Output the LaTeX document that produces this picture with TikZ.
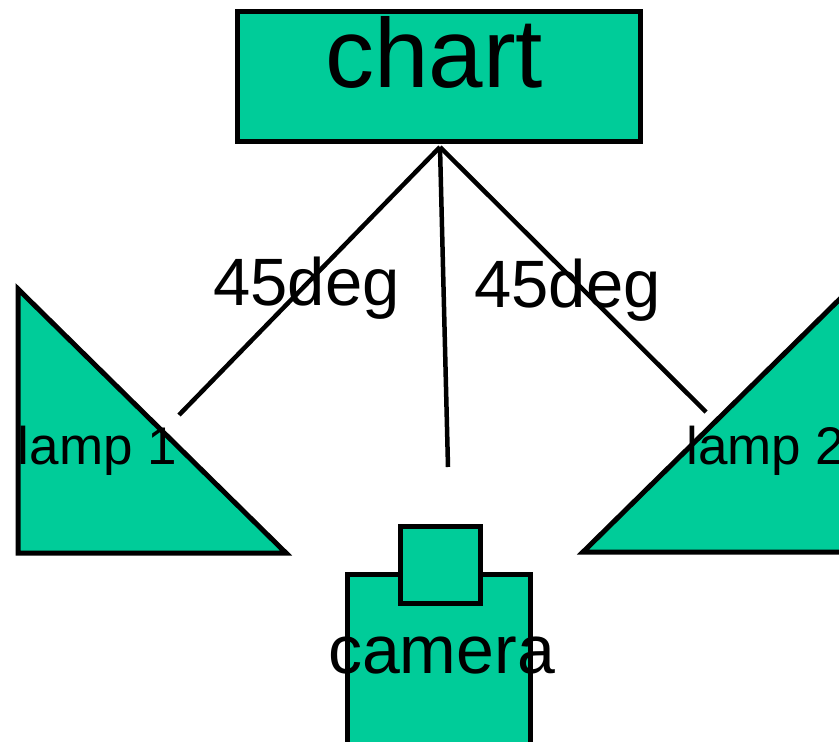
\documentclass[tikz,border=0pt]{standalone}
\usepackage{fontspec}
\setmainfont{Liberation Sans}
\definecolor{teal}{RGB}{0,204,153}
\begin{document}
\begin{tikzpicture}[x=1pt,y=-1pt,
  shp/.style={draw=black,fill=teal,line width=5pt,line join=miter},
  conn/.style={draw=black,line width=4.5pt},
  lbl/.style={inner sep=0pt,anchor=base,text=black}]
\useasboundingbox (0,0) rectangle (839,742);
\clip (0,0) rectangle (839,742);
% chart
\node[shp,rectangle,minimum width=403pt,minimum height=130pt,inner sep=0pt] (chart) at (438.5,76) {};
\node[lbl,font=\fontsize{98}{98}\selectfont] (charttxt) at (434,87) {chart};
% lamps
\path[shp] (18,289) coordinate (l1a) -- (18,553) coordinate (l1b) -- (286,553) coordinate (l1c) -- cycle;
\path[shp] (583,552) coordinate (l2a) -- (852,287) coordinate (l2b) -- (852,552) coordinate (l2c) -- cycle;
\node[lbl,font=\fontsize{53}{53}\selectfont] (lamp1) at (97.5,464) {lamp 1};
\node[lbl,font=\fontsize{53}{53}\selectfont] (lamp2) at (766,464) {lamp 2};
% camera
\node[shp,rectangle,minimum width=183pt,minimum height=200pt,inner sep=0pt] (body) at (438.5,674) {};
\node[shp,rectangle,minimum width=80pt,minimum height=77pt,inner sep=0pt] (lens) at (440,564.5) {};
\node[lbl,font=\fontsize{68}{68}\selectfont] (camtxt) at (441.5,673) {camera};
% angle labels
\node[lbl,font=\fontsize{67}{67}\selectfont] (ang1) at (306.5,305) {45deg};
\node[lbl,font=\fontsize{67}{67}\selectfont] (ang2) at (567.5,307) {45deg};
% connectors
\coordinate (apex) at (440,147);
\coordinate (e1) at (179,415);
\coordinate (e2) at (448,467);
\coordinate (e3) at (706,412);
\draw[conn] (apex) -- (e1);
\draw[conn] (apex) -- (e2);
\draw[conn] (apex) -- (e3);
\end{tikzpicture}
\end{document}
